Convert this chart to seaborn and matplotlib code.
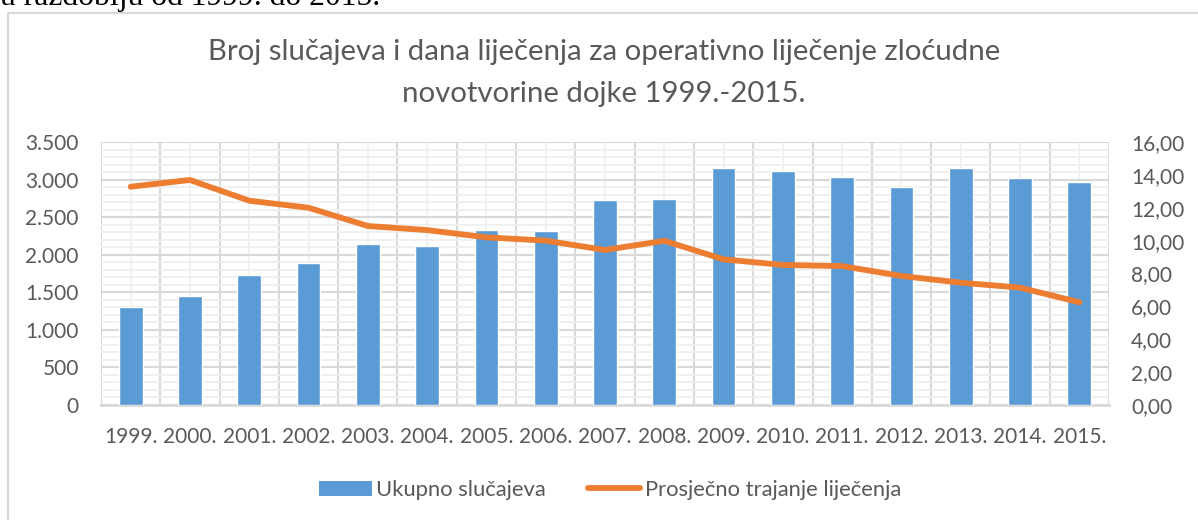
import numpy as np
import pandas as pd
import matplotlib
matplotlib.use("Agg")
import matplotlib.pyplot as plt
from matplotlib.ticker import FixedLocator, FuncFormatter, MultipleLocator
from matplotlib.patches import Rectangle, Patch
from matplotlib.lines import Line2D
import seaborn as sns

# --- data -------------------------------------------------------------
years = ["1999.", "2000.", "2001.", "2002.", "2003.", "2004.", "2005.", "2006.",
         "2007.", "2008.", "2009.", "2010.", "2011.", "2012.", "2013.", "2014.", "2015."]
cases = [1310, 1455, 1730, 1894, 2143, 2116, 2329, 2316,
         2728, 2741, 3154, 3114, 3030, 2897, 3154, 3017, 2968]
avg_days = [13.28, 13.69, 12.43, 12.00, 10.89, 10.64, 10.20, 10.00,
            9.43, 9.99, 8.86, 8.52, 8.45, 7.85, 7.44, 7.14, 6.25]

left_ticks = [0, 500, 1000, 1500, 2000, 2500, 3000, 3500]
right_ticks = [0, 2, 4, 6, 8, 10, 12, 14, 16]

title_text = ("Broj slučajeva i dana liječenja za operativno liječenje zloćudne\n"
              "novotvorine dojke 1999.-2015.")
caption_text = "u razdoblju od 1999. do 2015."
bar_label = "Ukupno slučajeva"
line_label = "Prosječno trajanje liječenja"

df = pd.DataFrame({"godina": years, "slucajevi": cases, "dani": avg_days})

# --- style ------------------------------------------------------------
sns.set_theme(style="white")
plt.rcParams["font.family"] = ["Lato", "DejaVu Sans"]

BLUE = "#5B9BD5"
ORANGE = "#ED7D31"
TEXT = "#595959"
GRID_MAJOR = "#d9d9d9"
GRID_MINOR = "#efefef"

fig = plt.figure(figsize=(11.98, 5.2), dpi=100)
ax = fig.add_axes([101 / 1198, 1 - 405 / 520, (1109 - 101) / 1198, (405 - 142) / 520])

sns.barplot(data=df, x="godina", y="slucajevi", ax=ax, color=BLUE,
            width=0.4, saturation=1, zorder=3)

ax.set_xlim(-0.5, len(years) - 0.5)
ax.set_ylim(left_ticks[0], left_ticks[-1])
ax.set_xlabel("")
ax.set_ylabel("")

# grid: dark lines on 500 steps and category borders, light lines in between
ax.yaxis.set_major_locator(FixedLocator(left_ticks))
ax.yaxis.set_minor_locator(MultipleLocator(100))
ax.xaxis.set_minor_locator(FixedLocator(np.arange(len(years) + 1) - 0.5))
ax.set_axisbelow(True)
ax.grid(which="major", axis="y", color=GRID_MAJOR, lw=1.5)
ax.grid(which="minor", axis="y", color=GRID_MINOR, lw=1.3)
ax.grid(which="minor", axis="x", color=GRID_MAJOR, lw=1.5)
ax.grid(which="major", axis="x", color=GRID_MINOR, lw=1.3)

ax.yaxis.set_major_formatter(FuncFormatter(lambda v, p: f"{int(v):,}".replace(",", ".")))
ax.tick_params(axis="both", which="both", length=0, labelsize=15, labelcolor=TEXT)
ax.tick_params(axis="y", pad=16)
ax.tick_params(axis="x", pad=16)
for s in ("top", "left", "right"):
    ax.spines[s].set_visible(False)
ax.spines["bottom"].set_color(GRID_MAJOR)
ax.spines["bottom"].set_linewidth(2)

# secondary axis with the average treatment length
ax2 = ax.twinx()
sns.lineplot(x=np.arange(len(years)), y=df["dani"], ax=ax2, color=ORANGE,
             lw=4.2, solid_capstyle="round", zorder=4)
ax2.set_ylim(right_ticks[0], right_ticks[-1])
ax2.yaxis.set_major_locator(FixedLocator(right_ticks))
ax2.yaxis.set_major_formatter(FuncFormatter(lambda v, p: f"{v:.2f}".replace(".", ",")))
ax2.tick_params(axis="y", length=0, labelsize=15, labelcolor=TEXT, pad=16)
ax2.set_ylabel("")
ax2.grid(False)
for s in ax2.spines.values():
    s.set_visible(False)

# title
fig.text(0.504, 1 - 73 / 520, title_text, ha="center", va="center",
         fontsize=21.2, color=TEXT, linespacing=1.75,
         family=["Lato", "DejaVu Sans"], fontweight="normal")

# legend
handles = [Patch(facecolor=BLUE, edgecolor="none", label=bar_label),
           Line2D([], [], color=ORANGE, lw=4.2, solid_capstyle="round", label=line_label)]
fig.legend(handles=handles, loc="center", bbox_to_anchor=(610 / 1198, 1 - 490 / 520),
           ncol=2, frameon=False, fontsize=15.8, labelcolor=TEXT,
           handlelength=2.4, handletextpad=0.2, columnspacing=1.9)

# chart-area border and the document line above it
fig.add_artist(Rectangle((7.5 / 1198, -0.1), 1.2, 1 - 12.5 / 520 + 0.1,
                         transform=fig.transFigure, fill=False,
                         edgecolor=GRID_MAJOR, lw=1.5, clip_on=False))
fig.text(0.0, 1 - 5 / 520, caption_text, ha="left", va="baseline",
         fontsize=22.8, color="black", family=["Liberation Serif", "DejaVu Serif"])

fig.savefig("out.png", dpi=100)
